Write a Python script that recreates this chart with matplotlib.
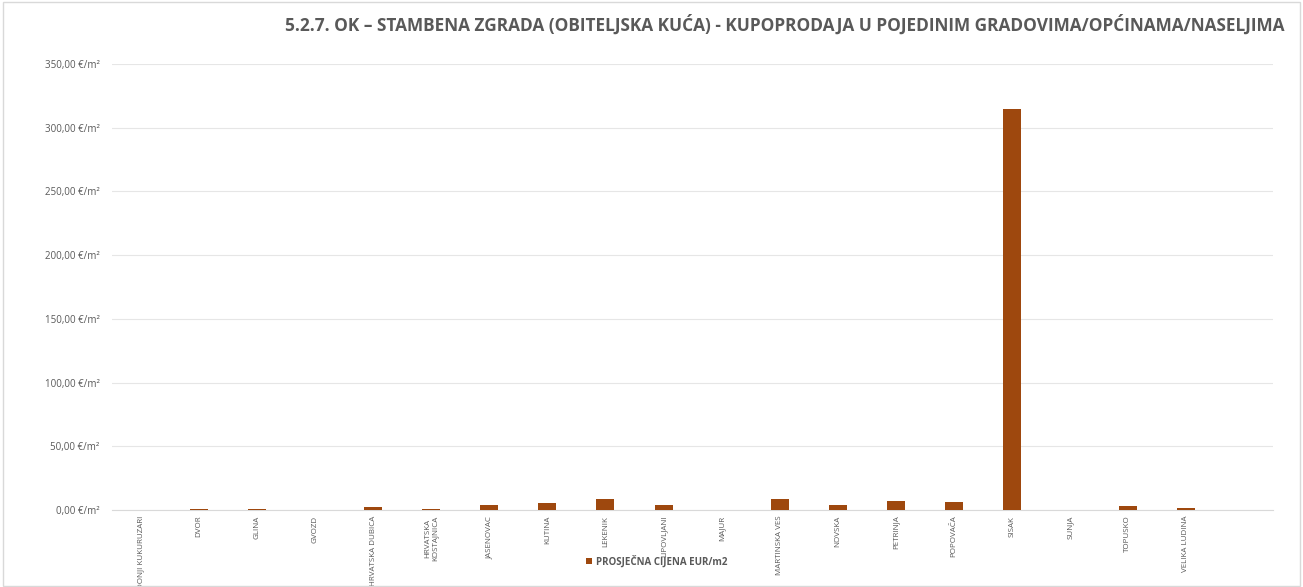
import matplotlib.pyplot as plt
import numpy as np

TITLE = "5.2.7. OK – STAMBENA ZGRADA (OBITELJSKA KUĆA) - KUPOPRODAJA U POJEDINIM GRADOVIMA/OPĆINAMA/NASELJIMA"
SERIES_NAME = "PROSJEČNA CIJENA EUR/m2"

places = [
    "DONJI KUKURUZARI", "DVOR", "GLINA", "GVOZD", "HRVATSKA DUBICA",
    "HRVATSKA\nKOSTAJNICA", "JASENOVAC", "KUTINA", "LEKENIK", "LIPOVLJANI",
    "MAJUR", "MARTINSKA VES", "NOVSKA", "PETRINJA", "POPOVAČA", "SISAK",
    "SUNJA", "TOPUSKO", "VELIKA LUDINA",
]
prices = [
    0.3, 0.8, 1.0, 0.3, 2.6,
    1.2, 3.9, 5.4, 8.9, 3.9,
    0.3, 8.9, 3.9, 7.1, 6.0, 314.5,
    0.3, 2.9, 1.3,
]
y_ticks = [0, 50, 100, 150, 200, 250, 300, 350]


def fmt(v):
    return f"{v:,.2f}".replace(",", "X").replace(".", ",").replace("X", ".") + " €/m²"


def main():
    plt.rcParams["font.family"] = ["Open Sans", "DejaVu Sans"]
    fig = plt.figure(figsize=(13.03, 5.87), dpi=100)
    ax = fig.add_axes([0.086, 0.131, 0.891, 0.76])

    x = np.arange(len(places))
    ax.bar(x, prices, width=0.31, color="#9E480E", label=SERIES_NAME, zorder=3)

    ax.set_ylim(0, 350)
    ax.set_xlim(-0.5, len(places) + 0.5)
    ax.set_yticks(y_ticks)
    ax.set_yticklabels([fmt(v) for v in y_ticks], fontsize=7, color="#595959")
    ax.set_xticks(x)
    ax.set_xticklabels(places, rotation=90, fontsize=5.8, color="#595959",
                       va="top", ha="center")
    ax.tick_params(axis="both", length=0, pad=4)
    ax.tick_params(axis="y", pad=9)

    ax.grid(axis="y", color="#e6e6e6", linewidth=0.8, zorder=0)
    for s in ["top", "right", "left"]:
        ax.spines[s].set_visible(False)
    ax.spines["bottom"].set_color("#d9d9d9")

    fig.text(0.986, 0.958, TITLE, ha="right", va="center", fontsize=12.4,
             fontweight="bold", color="#595959")

    leg = fig.legend(loc="center", bbox_to_anchor=(0.504, 0.044), frameon=False,
                     fontsize=7, handlelength=0.6, handleheight=0.6,
                     handletextpad=0.4)
    for t in leg.get_texts():
        t.set_color("#595959")
        t.set_fontweight("bold")

    fig.patches.append(plt.Rectangle((0.002, 0.002), 0.996, 0.994,
                                     transform=fig.transFigure, fill=False,
                                     edgecolor="#d9d9d9", linewidth=1))

    fig.savefig("out.png", dpi=100)
    plt.close(fig)


if __name__ == "__main__":
    main()
